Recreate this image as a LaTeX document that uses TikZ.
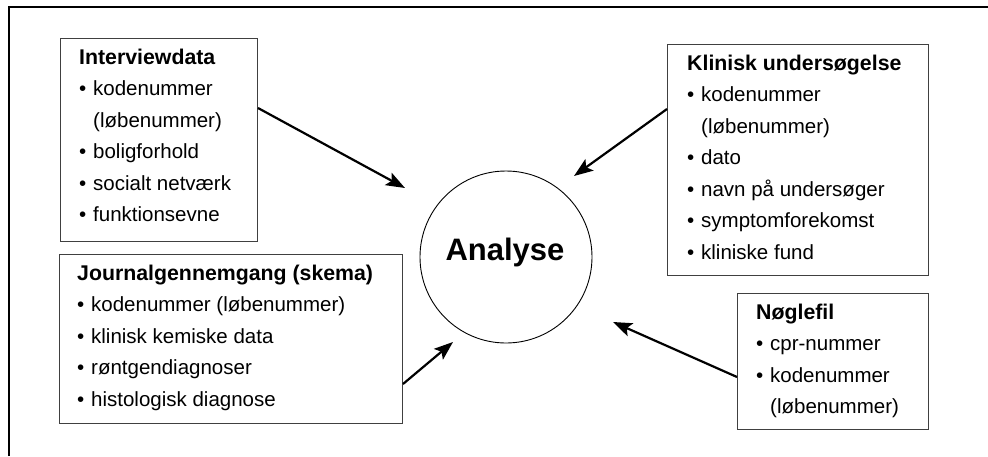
\documentclass[tikz,border=0pt]{standalone}
\usepackage{fontspec}
\setmainfont{Liberation Sans}
\usetikzlibrary{arrows.meta,calc}
\newcommand{\itm}{\makebox[14pt][l]{•}}
\newcommand{\ind}{\hspace*{14pt}}
\newcommand{\ttl}[1]{{\fontsize{21.3}{31.5}\selectfont\bfseries #1}}
\tikzset{
  box/.style={draw=black!75, line width=1pt, rectangle, inner sep=0pt, anchor=north west},
  txt/.style={inner sep=0pt, anchor=base west, align=left, font=\fontsize{20.5}{31.5}\selectfont},
  conn/.style={line width=2.2pt, -{Stealth[length=19pt,width=14pt,inset=4pt]}},
  ring/.style={draw, circle, line width=0.9pt, minimum size=172pt, inner sep=0pt},
}
\begin{document}
\begin{tikzpicture}[x=1pt,y=-1pt]
\useasboundingbox (0,0) rectangle (988,456);
\draw[line width=1.2pt] (9,456) -- (9,7) -- (988,7);

\node[box, minimum width=197pt, minimum height=203pt] (iv) at (60,38) {};
\node[box, minimum width=343pt, minimum height=169pt] (jg) at (59,254) {};
\node[box, minimum width=261pt, minimum height=231pt] (kl) at (667,44) {};
\node[box, minimum width=191pt, minimum height=136pt] (ng) at (737,293) {};
\node[ring] (an) at (506,257) {};
\node[inner sep=0pt, anchor=base, font=\fontsize{31}{36}\selectfont\bfseries] (antxt) at (505,260) {Analyse};

% text nodes anchored at the baseline of their last line
\node[txt] (ivt) at (79,221.5) {\ttl{Interviewdata}\\\itm kodenummer\\\ind(løbenummer)\\\itm boligforhold\\\itm socialt netværk\\\itm funktionsevne};
\node[txt] (jgt) at (77,406) {\ttl{Journalgennemgang (skema)}\\\itm kodenummer (løbenummer)\\\itm klinisk kemiske data\\\itm røntgendiagnoser\\\itm histologisk diagnose};
\node[txt] (klt) at (687,259) {\ttl{Klinisk undersøgelse}\\\itm kodenummer\\\ind(løbenummer)\\\itm dato\\\itm navn på undersøger\\\itm symptomforekomst\\\itm kliniske fund};
\node[txt] (ngt) at (756,413.5) {\ttl{Nøglefil}\\\itm cpr-nummer\\\itm kodenummer\\\ind(løbenummer)};

\coordinate (ivend) at (405,188);
\coordinate (klend) at (574,176);
\coordinate (jgend) at (453,342);
\coordinate (ngend) at (613,322);
\draw[conn] ($(iv.north east)+(0,70)$) -- (ivend);
\draw[conn] ($(kl.north west)+(0,65)$) -- (klend);
\draw[conn] ($(jg.north east)+(0,130)$) -- (jgend);
\draw[conn] ($(ng.north west)+(0,84)$) -- (ngend);
\end{tikzpicture}
\end{document}
